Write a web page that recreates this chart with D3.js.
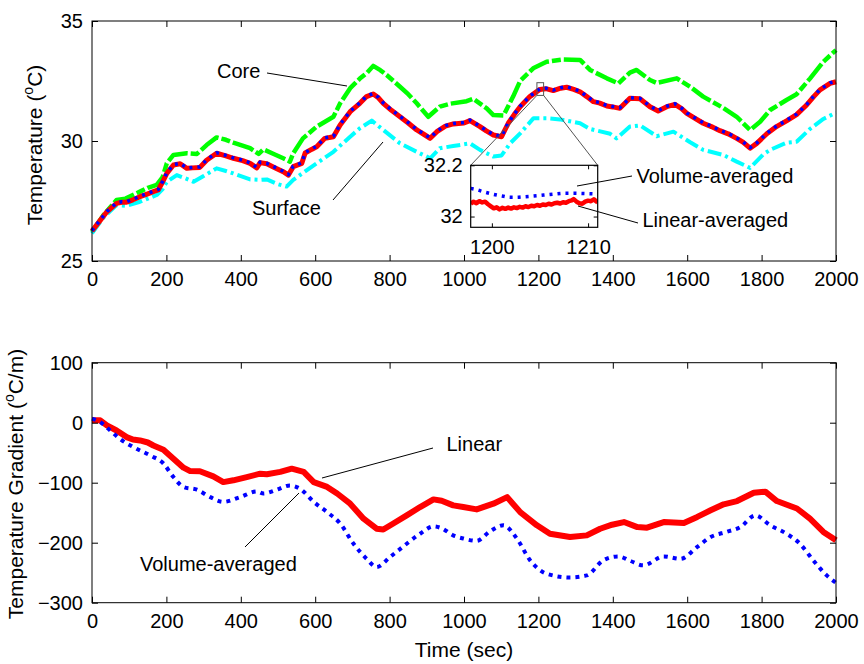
<!DOCTYPE html>
<html>
<head>
<meta charset="utf-8">
<script src="https://cdn.jsdelivr.net/npm/d3@7"></script>
<style>
  html, body { margin: 0; padding: 0; background: #fff; }
  svg { display: block; font-family: "Liberation Sans", Arial, sans-serif; }
</style>
</head>
<body>
<svg id="chart" width="864" height="664"></svg>
<script>
// ---- Temperature histories (deg C) ----
const linTime = [0,20,40,66,80,93,110,129,150,165,178,190,201,219,237,255,270,290,308,335,360,380,405,425,443,452,470,490,514,528,541,564,573,590,604,626,649,667,694,720,738,756,770,783,805,828,850,873,895,909,927,950,971,1000,1016,1043,1060,1079,1101,1119,1135,1151,1177,1204,1220,1240,1260,1276,1295,1312,1330,1348,1365,1384,1400,1419,1446,1473,1500,1522,1545,1567,1585,1599,1620,1643,1665,1688,1710,1733,1750,1769,1787,1814,1840,1867,1894,1921,1940,1957,1984,2000];
const linTemp = [26.25,26.65,27.05,27.4,27.45,27.45,27.55,27.68,27.8,27.89,27.96,28.3,28.65,29.0,29.05,28.86,28.88,28.9,29.2,29.49,29.38,29.28,29.18,29.07,28.88,29.1,29.05,28.9,28.72,28.58,28.93,29.07,29.5,29.65,29.76,30.11,30.18,30.67,31.22,31.57,31.85,31.96,31.8,31.57,31.28,31.01,30.75,30.46,30.25,30.11,30.39,30.62,30.71,30.75,30.85,30.6,30.42,30.25,30.18,30.74,31.1,31.43,31.85,32.15,32.18,32.1,32.2,32.24,32.15,32.05,31.85,31.64,31.58,31.46,31.42,31.36,31.78,31.76,31.43,31.25,31.43,31.53,31.35,31.15,30.95,30.74,30.6,30.43,30.3,30.11,29.95,29.7,29.9,30.3,30.6,30.84,31.1,31.5,31.85,32.13,32.4,32.47];
const volTemp = [26.27,26.67,27.06,27.42,27.47,27.47,27.57,27.7,27.82,27.91,27.98,28.32,28.67,29.02,29.07,28.88,28.9,28.92,29.22,29.51,29.4,29.3,29.2,29.09,28.9,29.12,29.07,28.92,28.74,28.6,28.95,29.09,29.52,29.67,29.78,30.13,30.2,30.69,31.24,31.59,31.87,31.98,31.82,31.59,31.3,31.03,30.77,30.48,30.27,30.13,30.41,30.64,30.73,30.77,30.87,30.62,30.44,30.27,30.2,30.76,31.12,31.45,31.87,32.17,32.2,32.12,32.22,32.26,32.17,32.07,31.87,31.66,31.6,31.48,31.44,31.38,31.8,31.78,31.45,31.27,31.45,31.55,31.37,31.17,30.97,30.76,30.62,30.45,30.32,30.13,29.97,29.72,29.92,30.32,30.62,30.86,31.12,31.52,31.87,32.15,32.42,32.49];

const coreTime = [0,30,66,90,129,150,174,190,201,219,255,282,308,335,360,380,425,448,461,490,514,532,541,567,604,649,667,694,720,740,756,775,792,828,850,873,904,935,962,1007,1025,1061,1079,1106,1132,1151,1186,1222,1267,1312,1339,1384,1415,1446,1464,1500,1518,1572,1608,1643,1697,1733,1769,1796,1823,1867,1894,1930,1966,2000];
const coreTemp = [26.2,26.9,27.54,27.6,27.89,28.05,28.17,28.5,29.07,29.42,29.49,29.46,29.83,30.15,30.05,29.93,29.7,29.46,29.65,29.45,29.28,29.14,29.49,30.11,30.6,31.01,31.57,32.2,32.6,32.85,33.13,32.95,32.75,32.26,31.95,31.57,31.01,31.43,31.55,31.66,31.76,31.36,31.08,31.06,31.85,32.5,33.03,33.3,33.4,33.38,32.96,32.61,32.4,32.85,32.96,32.54,32.42,32.61,32.26,31.85,31.38,31.01,30.46,30.8,31.29,31.71,31.95,32.6,33.3,33.79];

const surfTime = [0,30,66,93,129,150,174,190,201,228,250,273,300,335,360,380,425,452,470,500,523,541,559,604,649,694,720,752,783,828,873,909,935,971,1016,1043,1079,1101,1124,1151,1187,1222,1258,1312,1339,1393,1410,1446,1473,1518,1563,1608,1643,1697,1733,1769,1805,1823,1867,1894,1930,1966,2000];
const surfTemp = [26.15,26.8,27.33,27.3,27.47,27.6,27.75,28.0,28.3,28.58,28.45,28.3,28.54,28.86,28.75,28.65,28.4,28.38,28.4,28.2,28.1,28.38,28.58,29.07,29.55,30.18,30.53,30.85,30.46,29.9,29.55,29.28,29.7,29.79,29.9,29.63,29.35,29.4,29.9,30.32,30.95,30.95,30.9,30.74,30.5,30.3,30.11,30.6,30.65,30.2,30.39,29.95,29.63,29.42,29.14,28.88,29.45,29.63,29.93,29.97,30.5,30.92,31.18];

// ---- Close-up window (1198 - 1211 s) ----
const zoomVolTime = [1197.8,1198.5,1199.1,1199.8,1200.5,1201.2,1201.9,1202.6,1203.3,1204.3,1205.4,1206.5,1207.5,1208.5,1209.6,1211];
const zoomVolTemp = [32.110,32.104,32.097,32.090,32.084,32.079,32.075,32.075,32.077,32.080,32.084,32.088,32.091,32.091,32.090,32.088];
const zoomLinTime = [1197.8,1198.1,1198.4,1198.7,1199.0,1199.3,1199.6,1199.9,1200.2,1200.5,1200.8,1201.1,1201.4,1201.7,1202.0,1202.3,1202.6,1202.9,1203.2,1203.5,1203.8,1204.1,1204.4,1204.7,1205.0,1205.3,1205.6,1205.9,1206.2,1206.5,1206.8,1207.1,1207.4,1207.7,1208.0,1208.3,1208.5,1208.8,1209.1,1209.4,1209.7,1210.0,1210.3,1210.6,1210.9,1211];
const zoomLinTemp = [32.050,32.058,32.052,32.060,32.055,32.058,32.048,32.040,32.032,32.036,32.028,32.034,32.030,32.035,32.031,32.036,32.033,32.038,32.035,32.040,32.037,32.042,32.040,32.045,32.042,32.047,32.045,32.050,32.047,32.052,32.054,32.051,32.056,32.054,32.060,32.063,32.068,32.058,32.052,32.050,32.058,32.062,32.060,32.067,32.058,32.055];

// ---- Temperature gradient histories (deg C / m) ----
const gLinTime = [0,22,40,66,93,110,129,150,165,192,219,246,264,290,326,353,380,416,452,470,506,537,569,596,632,659,694,730,765,783,810,846,882,918,940,971,998,1034,1079,1116,1151,1196,1231,1285,1330,1366,1398,1430,1466,1492,1537,1591,1627,1663,1698,1734,1779,1810,1841,1895,1930,1966,2000];
const gLin = [4,4,-4.5,-13,-24,-28,-29.5,-33,-38,-45,-60,-75,-80.7,-81,-89.5,-99,-96,-90.6,-85,-86,-82,-76.7,-82,-99,-107,-118,-135,-160,-176.7,-178,-168,-154.5,-140.6,-127.8,-130,-137.8,-140.6,-144.5,-135,-124,-149,-171,-185,-190.6,-187.8,-176.7,-170,-165.6,-174,-175,-165.6,-167,-157,-146,-136,-130.6,-116.7,-115,-130.6,-143,-160,-182,-196];
const gVolTime = [0,22,49,75,111,156,192,219,246,282,318,353,398,443,461,497,532,559,596,632,667,703,738,765,801,846,882,918,940,971,998,1034,1070,1106,1142,1178,1222,1285,1330,1374,1415,1446,1482,1537,1582,1627,1663,1707,1743,1783,1823,1867,1903,1939,1975,2000];
const gVol = [6.7,1,-13,-27,-40.6,-54.5,-68,-90.6,-107,-111.7,-124,-132,-124,-114.5,-118,-111.7,-104.5,-110,-132,-149,-168,-201.7,-226.7,-240.6,-224,-201.7,-185,-172.8,-176,-187.8,-193,-197,-181,-171,-193,-229.5,-251.7,-258,-254.5,-229.5,-222.8,-230,-237.8,-222.8,-227,-207,-190.6,-181.7,-174,-154.5,-171,-185,-201.7,-229.5,-254.5,-267];

// ---- Tick values ----
const timeTicks = [0,200,400,600,800,1000,1200,1400,1600,1800,2000];
const tempTicks = [25,30,35];
const gradTicks = [-300,-200,-100,0,100];
const zoomTimeTicks = [1200,1210];
const zoomTempTicks = [32,32.2];

const svg = d3.select("#chart");
svg.append("rect").attr("width", 864).attr("height", 664).attr("fill", "#fff");

const FONT = 20;
const fmtInt = d3.format("d");
const x = d3.scaleLinear().domain([0, 2000]).range([92, 836]);
const yT = d3.scaleLinear().domain([25, 35]).range([261, 21]);
const yG = d3.scaleLinear().domain([-300, 100]).range([602.7, 362.7]);

const zip = (t, v) => t.map((d, i) => [d, v[i]]);

function frame(yScale, yTicks, y0, y1) {
  const g = svg.append("g");
  g.append("g").attr("transform", `translate(0,${y1})`)
    .call(d3.axisBottom(x).tickValues(timeTicks).tickFormat(fmtInt).tickSizeInner(-6).tickSizeOuter(0).tickPadding(11));
  g.append("g").attr("transform", `translate(0,${y0})`)
    .call(d3.axisTop(x).tickValues(timeTicks).tickSizeInner(-6).tickSizeOuter(0).tickFormat(""));
  g.append("g").attr("transform", `translate(92,0)`)
    .call(d3.axisLeft(yScale).tickValues(yTicks).tickFormat(fmtInt).tickSizeInner(-6).tickSizeOuter(0).tickPadding(9));
  g.append("g").attr("transform", `translate(836,0)`)
    .call(d3.axisRight(yScale).tickValues(yTicks).tickSizeInner(-6).tickSizeOuter(0).tickFormat(""));
  g.selectAll(".domain").remove();
  g.selectAll(".tick line").attr("stroke", "#000");
  g.selectAll(".tick text").attr("font-size", FONT).attr("fill", "#000")
    .attr("font-family", '"Liberation Sans", Arial, sans-serif');
  g.append("rect").attr("x", 92).attr("y", y0).attr("width", 744).attr("height", y1 - y0)
    .attr("fill", "none").attr("stroke", "#000").attr("stroke-width", 1);
  return g;
}

function drawLine(parent, data, xs, ys, color, width, dash, curve) {
  parent.append("path")
    .datum(data)
    .attr("fill", "none")
    .attr("stroke", color)
    .attr("stroke-width", width)
    .attr("stroke-dasharray", dash || null)
    .attr("stroke-linejoin", "round")
    .attr("d", d3.line().x(d => xs(d[0])).y(d => ys(d[1])).curve(curve || d3.curveLinear));
}

// ================= Upper panel: temperatures =================
const upper = svg.append("g");
drawLine(upper, zip(coreTime, coreTemp), x, yT, "#00ff00", 4.5, "22 3 9 3");
drawLine(upper, zip(surfTime, surfTemp), x, yT, "#00ffff", 4, "14 4 3 4");
drawLine(upper, zip(linTime, linTemp), x, yT, "#ff0000", 5);
drawLine(upper, zip(linTime, volTemp), x, yT, "#0000ff", 3.5, "3 5");
frame(yT, tempTicks, 21, 261);

// Close-up window marker and connector lines
const box = { t0: 1196, t1: 1214, v0: 31.9, v1: 32.43 };
const inset = { x0: 470.7, x1: 597.7, y0: 165.3, y1: 227.3 };
upper.append("rect")
  .attr("x", x(box.t0)).attr("y", yT(box.v1))
  .attr("width", x(box.t1) - x(box.t0)).attr("height", yT(box.v0) - yT(box.v1))
  .attr("fill", "none").attr("stroke", "#555").attr("stroke-width", 1);
upper.append("line").attr("x1", x(box.t0)).attr("y1", yT(box.v0)).attr("x2", inset.x0).attr("y2", inset.y0)
  .attr("stroke", "#555").attr("stroke-width", 1);
upper.append("line").attr("x1", x(box.t1)).attr("y1", yT(box.v0)).attr("x2", inset.x1).attr("y2", inset.y0)
  .attr("stroke", "#555").attr("stroke-width", 1);

// Inset axes
const xi = d3.scaleLinear().domain([1197.8, 1211]).range([inset.x0, inset.x1]);
const yi = d3.scaleLinear().domain([31.958, 32.2]).range([inset.y1, inset.y0]);
const ig = svg.append("g");
ig.append("rect").attr("x", inset.x0).attr("y", inset.y0)
  .attr("width", inset.x1 - inset.x0).attr("height", inset.y1 - inset.y0).attr("fill", "#fff");
svg.append("defs").append("clipPath").attr("id", "insetClip")
  .append("rect").attr("x", inset.x0).attr("y", inset.y0)
  .attr("width", inset.x1 - inset.x0).attr("height", inset.y1 - inset.y0);
const ic = ig.append("g").attr("clip-path", "url(#insetClip)");
drawLine(ic, zip(zoomLinTime, zoomLinTemp), xi, yi, "#ff0000", 4.5);
drawLine(ic, zip(zoomVolTime, zoomVolTemp), xi, yi, "#0000ff", 3.5, "3 5", d3.curveMonotoneX);

const ia = ig.append("g");
ia.append("g").attr("transform", `translate(0,${inset.y1})`)
  .call(d3.axisBottom(xi).tickValues(zoomTimeTicks).tickFormat(fmtInt).tickSizeInner(-4).tickSizeOuter(0).tickPadding(13));
ia.append("g").attr("transform", `translate(0,${inset.y0})`)
  .call(d3.axisTop(xi).tickValues(zoomTimeTicks).tickSizeInner(-4).tickSizeOuter(0).tickFormat(""));
ia.append("g").attr("transform", `translate(${inset.x0},0)`)
  .call(d3.axisLeft(yi).tickValues(zoomTempTicks).tickFormat(d3.format("~g")).tickSizeInner(-4).tickSizeOuter(0).tickPadding(8));
ia.append("g").attr("transform", `translate(${inset.x1},0)`)
  .call(d3.axisRight(yi).tickValues(zoomTempTicks).tickSizeInner(-4).tickSizeOuter(0).tickFormat(""));
ia.selectAll(".domain").remove();
ia.selectAll(".tick line").attr("stroke", "#000");
ia.selectAll(".tick text").attr("font-size", FONT).attr("fill", "#000")
  .attr("font-family", '"Liberation Sans", Arial, sans-serif');
ig.append("rect").attr("x", inset.x0).attr("y", inset.y0)
  .attr("width", inset.x1 - inset.x0).attr("height", inset.y1 - inset.y0)
  .attr("fill", "none").attr("stroke", "#000").attr("stroke-width", 1.2);

// ================= Lower panel: gradients =================
const lower = svg.append("g");
drawLine(lower, zip(gLinTime, gLin), x, yG, "#ff0000", 6);
drawLine(lower, zip(gVolTime, gVol), x, yG, "#0000ff", 4, "4 5", d3.curveMonotoneX);
frame(yG, gradTicks, 362.7, 602.7);

// ================= Text and callouts =================
function label(txt, cx, cy, anchor) {
  svg.append("text").attr("x", cx).attr("y", cy).attr("dy", "0.35em")
    .attr("text-anchor", anchor || "start").attr("font-size", FONT).attr("fill", "#000").text(txt);
}
function leader(x1, y1, x2, y2) {
  svg.append("line").attr("x1", x1).attr("y1", y1).attr("x2", x2).attr("y2", y2)
    .attr("stroke", "#000").attr("stroke-width", 1);
}
label("Core", 217, 71);
leader(267, 73, 347, 86);
label("Surface", 252, 208);
leader(333, 200, 383, 142);
label("Volume-averaged", 636.5, 176);
leader(632, 176, 577, 186);
label("Linear-averaged", 642.5, 220);
leader(638, 223, 578, 206);
label("Linear", 446.5, 444);
leader(433, 448, 322, 478);
label("Volume-averaged", 140, 564);
leader(245, 547, 299, 493);

// Axis titles
function ylabel(cx, cy, parts) {
  const t = svg.append("text").attr("transform", `translate(${cx},${cy}) rotate(-90)`)
    .attr("text-anchor", "middle").attr("font-size", 21).attr("fill", "#000");
  t.append("tspan").text(parts[0]);
  t.append("tspan").attr("font-size", 14).attr("dy", -9).text("o");
  t.append("tspan").attr("dy", 9).text(parts[1]);
}
ylabel(42, 145, ["Temperature (", "C)"]);
ylabel(23, 484, ["Temperature Gradient (", "C/m)"]);
svg.append("text").attr("x", 464).attr("y", 657).attr("text-anchor", "middle")
  .attr("font-size", 21).attr("fill", "#000").text("Time (sec)");
</script>
</body>
</html>
